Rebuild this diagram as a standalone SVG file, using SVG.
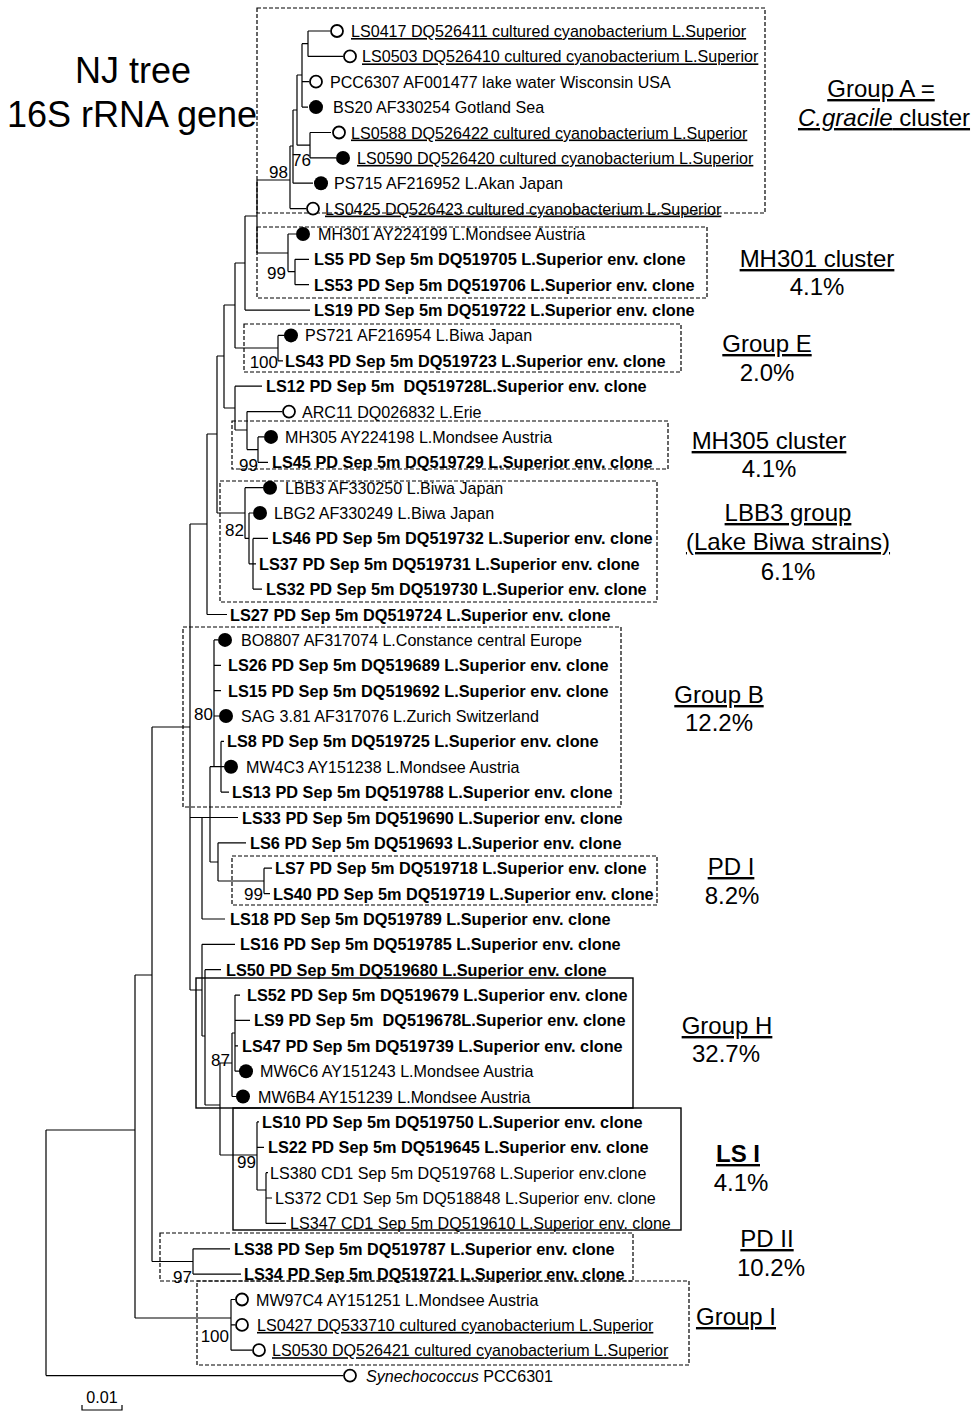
<svg xmlns="http://www.w3.org/2000/svg" width="974" height="1413" viewBox="0 0 974 1413">
<style>
.t{fill:none;stroke:#000;stroke-width:1.2}
.box{fill:none;stroke:#000;stroke-width:1.2;stroke-dasharray:4 2}
.sbox{fill:none;stroke:#000;stroke-width:1.4}
.r{font-family:"Liberation Sans",Arial,sans-serif;font-size:16.1px;fill:#000}
.b{font-family:"Liberation Sans",Arial,sans-serif;font-size:16.3px;font-weight:bold;fill:#000}
.u{text-decoration:underline}
.o{fill:#fff;stroke:#000;stroke-width:1.8}
.f{fill:#000}
.bs{font-family:"Liberation Sans",Arial,sans-serif;font-size:17px;text-anchor:end;fill:#000}
.lab{font-family:"Liberation Sans",Arial,sans-serif;font-size:24px;text-anchor:middle;fill:#000}
.ttl{font-family:"Liberation Sans",Arial,sans-serif;font-size:36px;text-anchor:middle;fill:#000}
</style>
<rect width="974" height="1413" fill="#fff"/>
<g id="title">
<text class="ttl" x="133" y="83">NJ tree</text>
<text class="ttl" x="132" y="127">16S rRNA gene</text>
</g>
<g id="boxes">
<rect class="box" x="257" y="8" width="508" height="205"/>
<rect class="box" x="257" y="227" width="450" height="71"/>
<rect class="box" x="244" y="324" width="437" height="48"/>
<rect class="box" x="232" y="421" width="436" height="48"/>
<rect class="box" x="220" y="481" width="437" height="121"/>
<rect class="box" x="183" y="627" width="438" height="180"/>
<rect class="box" x="232" y="856" width="425" height="49"/>
<rect class="sbox" x="196" y="978" width="437" height="130"/>
<rect class="sbox" x="233" y="1108" width="448" height="122"/>
<rect class="box" x="160" y="1233" width="473" height="48"/>
<rect class="box" x="197" y="1281" width="492" height="84"/>
</g>
<g id="connectors">
<path class="t" d="M308 31V56.4M308 31H330M308 56.4H343M302 43.7V107.1M302 43.7H308M302 81.7H309M302 107.1H308M297 75V145.2M297 75H302M297 145.2H310M310 132.5V157.9M310 132.5H331M310 157.9H336M293 110V183.2M293 110H297M293 183.2H313M290 146V208.6M290 146H293M290 208.6H306M257 180H290"/>
<path class="t" d="M288 234V271.6M288 234H296M288 271.6H295M295 259.3V284.7M295 259.3H309M295 284.7H309M257 180V253M257 253H288M245 216V310.1M245 216H257M245 310.1H310"/>
<path class="t" d="M278 335.4V360.8M278 335.4H284M278 360.8H283M235 263V348M235 263H245M235 348H278M224 305V408M224 305H235M235 386.2V430M235 386.2H262M224 408H235M247 411.6V449.6M235 430H247M247 411.6H282M258 436.9V462.3M247 449.6H258M258 436.9H264M258 462.3H268"/>
<path class="t" d="M217 356V513M217 356H224M245 487.7V538.4M217 513H245M245 487.7H263M249 513V563.8M245 538.4H249M249 513H253M253 538.4V589.1M249 563.8H253M253 538.4H268M253 563.8H256M253 589.1H262M207 434V614.5M207 434H217M207 614.5H227M190 524V990M190 524H207"/>
<path class="t" d="M214 639.9V766.7M214 639.9H218M214 665.3H221M214 690.6H221M214 716H219M214 766.7H221M221 741.4V792.1M221 741.4H224M221 766.7H224M221 792.1H229M210 766.7V862M210 766.7H214M190 817.5H238M202 817.5V919M202 919H225M218 842.8V881M210 862H218M218 842.8H246M218 881H264M264 868.2V893.6M264 868.2H272M264 893.6H270"/>
<path class="t" d="M190 990H202M202 944.3V1036M202 944.3H235M205 969.7V1105M202 1036H205M205 969.7H221M220 1063V1155M205 1105H220M220 1063H232M220 1155H257M232 1033V1096.5M232 1033H235M232 1096.5H236M235 995.1V1071.2M235 995.1H240M235 1020.4H250M235 1045.8H238M235 1071.2H239"/>
<path class="t" d="M257 1121.9V1190M257 1121.9H259M257 1147.3H264M257 1190H266M266 1172.7V1223.4M266 1172.7H268M266 1198H272M266 1223.4H286"/>
<path class="t" d="M152 727V1261.5M152 727H190M193 1248.8V1274.1M152 1261.5H193M193 1248.8H230M193 1274.1H241M135 975V1318M135 975H152M231 1299.5V1350.2M135 1318H231M231 1299.5H235M231 1324.9H235M231 1350.2H252M46 1130V1375.6M46 1130H135M46 1375.6H343"/>
</g>
<g id="bootstrap">
<text class="bs" x="288" y="178">98</text>
<text class="bs" x="311" y="166">76</text>
<text class="bs" x="286" y="279">99</text>
<text class="bs" x="278" y="368">100</text>
<text class="bs" x="258" y="471">99</text>
<text class="bs" x="244" y="536">82</text>
<text class="bs" x="213" y="720">80</text>
<text class="bs" x="263" y="900">99</text>
<text class="bs" x="230" y="1066">87</text>
<text class="bs" x="256" y="1168">99</text>
<text class="bs" x="192" y="1283">97</text>
<text class="bs" x="229" y="1342">100</text>
</g>
<g id="LS0417"><circle class="o" cx="337" cy="31" r="6"/><text class="r u" x="351" y="37">LS0417 DQ526411 cultured cyanobacterium L.Superior</text></g>
<g id="LS0503"><circle class="o" cx="350" cy="56.4" r="6"/><text class="r u" x="362" y="62.4">LS0503 DQ526410 cultured cyanobacterium L.Superior</text></g>
<g id="PCC6307"><circle class="o" cx="316" cy="81.7" r="6"/><text class="r" x="330" y="87.7">PCC6307 AF001477 lake water Wisconsin USA</text></g>
<g id="BS20"><circle class="f" cx="316" cy="107.1" r="7"/><text class="r" x="333" y="113.1">BS20 AF330254 Gotland Sea</text></g>
<g id="LS0588"><circle class="o" cx="339" cy="132.5" r="6"/><text class="r u" x="351" y="138.5">LS0588 DQ526422 cultured cyanobacterium L.Superior</text></g>
<g id="LS0590"><circle class="f" cx="343" cy="157.9" r="7"/><text class="r u" x="357" y="163.9">LS0590 DQ526420 cultured cyanobacterium L.Superior</text></g>
<g id="PS715"><circle class="f" cx="321" cy="183.2" r="7"/><text class="r" x="334" y="189.2">PS715 AF216952 L.Akan Japan</text></g>
<g id="LS0425"><circle class="o" cx="313" cy="208.6" r="6"/><text class="r u" x="325" y="214.6">LS0425 DQ526423 cultured cyanobacterium L.Superior</text></g>
<g id="MH301"><circle class="f" cx="303" cy="234" r="7"/><text class="r" x="318" y="240">MH301 AY224199 L.Mondsee Austria</text></g>
<g id="LS5"><text class="b" x="314" y="265.3">LS5 PD Sep 5m DQ519705 L.Superior env. clone</text></g>
<g id="LS53"><text class="b" x="314" y="290.7">LS53 PD Sep 5m DQ519706 L.Superior env. clone</text></g>
<g id="LS19"><text class="b" x="314" y="316.1">LS19 PD Sep 5m DQ519722 L.Superior env. clone</text></g>
<g id="PS721"><circle class="f" cx="291" cy="335.4" r="7"/><text class="r" x="305" y="341.4">PS721 AF216954 L.Biwa Japan</text></g>
<g id="LS43"><text class="b" x="285" y="366.8">LS43 PD Sep 5m DQ519723 L.Superior env. clone</text></g>
<g id="LS12"><text class="b" x="266" y="392.2" xml:space="preserve">LS12 PD Sep 5m  DQ519728L.Superior env. clone</text></g>
<g id="ARC11"><circle class="o" cx="289" cy="411.6" r="6"/><text class="r" x="302" y="417.6">ARC11 DQ026832 L.Erie</text></g>
<g id="MH305"><circle class="f" cx="271" cy="436.9" r="7"/><text class="r" x="285" y="442.9">MH305 AY224198 L.Mondsee Austria</text></g>
<g id="LS45"><text class="b" x="272" y="468.3">LS45 PD Sep 5m DQ519729 L.Superior env. clone</text></g>
<g id="LBB3"><circle class="f" cx="270" cy="487.7" r="7"/><text class="r" x="285" y="493.7">LBB3 AF330250 L.Biwa Japan</text></g>
<g id="LBG2"><circle class="f" cx="260" cy="513" r="7"/><text class="r" x="274" y="519">LBG2 AF330249 L.Biwa Japan</text></g>
<g id="LS46"><text class="b" x="272" y="544.4">LS46 PD Sep 5m DQ519732 L.Superior env. clone</text></g>
<g id="LS37"><text class="b" x="259" y="569.8">LS37 PD Sep 5m DQ519731 L.Superior env. clone</text></g>
<g id="LS32"><text class="b" x="266" y="595.1">LS32 PD Sep 5m DQ519730 L.Superior env. clone</text></g>
<g id="LS27"><text class="b" x="230" y="620.5">LS27 PD Sep 5m DQ519724 L.Superior env. clone</text></g>
<g id="BO8807"><circle class="f" cx="225" cy="639.9" r="7"/><text class="r" x="241" y="645.9">BO8807 AF317074 L.Constance central Europe</text></g>
<g id="LS26"><text class="b" x="228" y="671.3">LS26 PD Sep 5m DQ519689 L.Superior env. clone</text></g>
<g id="LS15"><text class="b" x="228" y="696.6">LS15 PD Sep 5m DQ519692 L.Superior env. clone</text></g>
<g id="SAG381"><circle class="f" cx="226" cy="716" r="7"/><text class="r" x="241" y="722">SAG 3.81 AF317076 L.Zurich Switzerland</text></g>
<g id="LS8"><text class="b" x="227" y="747.4">LS8 PD Sep 5m DQ519725 L.Superior env. clone</text></g>
<g id="MW4C3"><circle class="f" cx="231" cy="766.7" r="7"/><text class="r" x="246" y="772.7">MW4C3 AY151238 L.Mondsee Austria</text></g>
<g id="LS13"><text class="b" x="232" y="798.1">LS13 PD Sep 5m DQ519788 L.Superior env. clone</text></g>
<g id="LS33"><text class="b" x="242" y="823.5">LS33 PD Sep 5m DQ519690 L.Superior env. clone</text></g>
<g id="LS6"><text class="b" x="250" y="848.8">LS6 PD Sep 5m DQ519693 L.Superior env. clone</text></g>
<g id="LS7"><text class="b" x="275" y="874.2">LS7 PD Sep 5m DQ519718 L.Superior env. clone</text></g>
<g id="LS40"><text class="b" x="273" y="899.6">LS40 PD Sep 5m DQ519719 L.Superior env. clone</text></g>
<g id="LS18"><text class="b" x="230" y="925">LS18 PD Sep 5m DQ519789 L.Superior env. clone</text></g>
<g id="LS16"><text class="b" x="240" y="950.3">LS16 PD Sep 5m DQ519785 L.Superior env. clone</text></g>
<g id="LS50"><text class="b" x="226" y="975.7">LS50 PD Sep 5m DQ519680 L.Superior env. clone</text></g>
<g id="LS52"><text class="b" x="247" y="1001.1">LS52 PD Sep 5m DQ519679 L.Superior env. clone</text></g>
<g id="LS9"><text class="b" x="254" y="1026.4" xml:space="preserve">LS9 PD Sep 5m  DQ519678L.Superior env. clone</text></g>
<g id="LS47"><text class="b" x="242" y="1051.8">LS47 PD Sep 5m DQ519739 L.Superior env. clone</text></g>
<g id="MW6C6"><circle class="f" cx="246" cy="1071.2" r="7"/><text class="r" x="260" y="1077.2">MW6C6 AY151243 L.Mondsee Austria</text></g>
<g id="MW6B4"><circle class="f" cx="243" cy="1096.5" r="7"/><text class="r" x="258" y="1102.5">MW6B4 AY151239 L.Mondsee Austria</text></g>
<g id="LS10"><text class="b" x="262" y="1127.9">LS10 PD Sep 5m DQ519750 L.Superior env. clone</text></g>
<g id="LS22"><text class="b" x="268" y="1153.3">LS22 PD Sep 5m DQ519645 L.Superior env. clone</text></g>
<g id="LS380"><text class="r" x="270" y="1178.7">LS380 CD1 Sep 5m DQ519768 L.Superior env.clone</text></g>
<g id="LS372"><text class="r" x="275" y="1204">LS372 CD1 Sep 5m DQ518848 L.Superior env. clone</text></g>
<g id="LS347"><text class="r" x="290" y="1229.4">LS347 CD1 Sep 5m DQ519610 L.Superior env. clone</text></g>
<g id="LS38"><text class="b" x="234" y="1254.8">LS38 PD Sep 5m DQ519787 L.Superior env. clone</text></g>
<g id="LS34"><text class="b" x="244" y="1280.1">LS34 PD Sep 5m DQ519721 L.Superior env. clone</text></g>
<g id="MW97C4"><circle class="o" cx="242" cy="1299.5" r="6"/><text class="r" x="256" y="1305.5">MW97C4 AY151251 L.Mondsee Austria</text></g>
<g id="LS0427"><circle class="o" cx="242" cy="1324.9" r="6"/><text class="r u" x="257" y="1330.9">LS0427 DQ533710 cultured cyanobacterium L.Superior</text></g>
<g id="LS0530"><circle class="o" cx="259" cy="1350.2" r="6"/><text class="r u" x="272" y="1356.2">LS0530 DQ526421 cultured cyanobacterium L.Superior</text></g>
<g id="Synechococcus"><circle class="o" cx="350" cy="1375.6" r="6"/><text class="r" x="366" y="1381.6"><tspan font-style="italic">Synechococcus</tspan> PCC6301</text></g>
<g id="scalebar">
<path class="t" d="M82 1405V1410H122V1405"/>
<text class="r" x="102" y="1403" text-anchor="middle" font-size="15">0.01</text>
</g>
<g id="groupA-label"><text class="lab u" x="881" y="97">Group A =</text><text class="lab u" x="884" y="126"><tspan font-style="italic">C.gracile</tspan> cluster</text></g>
<g id="MH301-label"><text class="lab u" x="817" y="267">MH301 cluster</text><text class="lab" x="817" y="295">4.1%</text></g>
<g id="groupE-label"><text class="lab u" x="767" y="352">Group E</text><text class="lab" x="767" y="381">2.0%</text></g>
<g id="MH305-label"><text class="lab u" x="769" y="449">MH305 cluster</text><text class="lab" x="769" y="477">4.1%</text></g>
<g id="LBB3-label"><text class="lab u" x="788" y="521">LBB3 group</text><text class="lab u" x="788" y="550">(Lake Biwa strains)</text><text class="lab" x="788" y="580">6.1%</text></g>
<g id="groupB-label"><text class="lab u" x="719" y="703">Group B</text><text class="lab" x="719" y="731">12.2%</text></g>
<g id="PDI-label"><text class="lab u" x="731" y="875">PD I</text><text class="lab" x="732" y="904">8.2%</text></g>
<g id="groupH-label"><text class="lab u" x="727" y="1034">Group H</text><text class="lab" x="726" y="1062">32.7%</text></g>
<g id="LSI-label"><text class="lab u" x="738" y="1162" font-weight="bold">LS I</text><text class="lab" x="741" y="1191">4.1%</text></g>
<g id="PDII-label"><text class="lab u" x="767" y="1247">PD II</text><text class="lab" x="771" y="1276">10.2%</text></g>
<g id="groupI-label"><text class="lab u" x="736" y="1325">Group I</text></g>
</svg>
